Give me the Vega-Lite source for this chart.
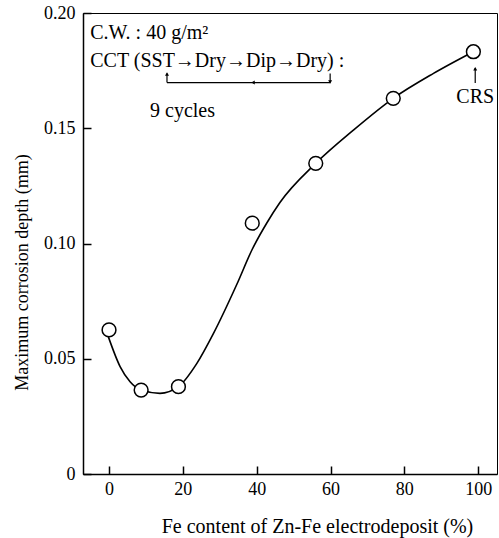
{
  "$schema": "https://vega.github.io/schema/vega-lite/v6.json",
  "width": 414,
  "height": 461,
  "autosize": {"type": "none"},
  "padding": {"left": 83, "top": 13, "right": 2, "bottom": 64},
  "background": "white",
  "config": {
    "view": {"stroke": "black", "strokeWidth": 1},
    "font": "Liberation Serif",
    "axis": {
      "grid": false,
      "domainColor": "black",
      "domainWidth": 1.5,
      "tickColor": "black",
      "tickWidth": 1.5,
      "tickSize": -8,
      "labelColor": "black",
      "labelFont": "Liberation Serif",
      "labelFontSize": 18,
      "titleFont": "Liberation Serif",
      "titleFontSize": 18,
      "titleFontWeight": "normal",
      "titleColor": "black"
    }
  },
  "datasets": {
    "points": [
      {"fe": 0, "depth": 0.0625},
      {"fe": 8.7, "depth": 0.0364},
      {"fe": 18.8, "depth": 0.0379},
      {"fe": 38.8, "depth": 0.1088},
      {"fe": 56, "depth": 0.1348},
      {"fe": 77, "depth": 0.163},
      {"fe": 98.7, "depth": 0.1832}
    ],
    "curve": [
      {"fe": -0.2, "depth": 0.0596},
      {"fe": 3.0, "depth": 0.0466},
      {"fe": 5.7, "depth": 0.040},
      {"fe": 8.7, "depth": 0.0364},
      {"fe": 13.8, "depth": 0.035},
      {"fe": 18.8, "depth": 0.0379},
      {"fe": 23.8, "depth": 0.048},
      {"fe": 28.3, "depth": 0.061},
      {"fe": 34.6, "depth": 0.0822},
      {"fe": 38.8, "depth": 0.0975},
      {"fe": 42.7, "depth": 0.1088},
      {"fe": 46.3, "depth": 0.1178},
      {"fe": 56, "depth": 0.1348},
      {"fe": 66.2, "depth": 0.1492},
      {"fe": 77, "depth": 0.163},
      {"fe": 87.9, "depth": 0.1738},
      {"fe": 98.7, "depth": 0.1832}
    ],
    "labels": [
      {"fe": -5.1, "depth": 0.1887, "text": "C.W. : 40 g/m²"},
      {"fe": -5.1, "depth": 0.1767, "text": "CCT (SST→Dry→Dip→Dry) :"},
      {"fe": 11.1, "depth": 0.1549, "text": "9 cycles"}
    ],
    "crs": [
      {"fe": 99.2, "depth": 0.1608, "text": "CRS"}
    ],
    "segments": [
      {"x1": 15.7, "y1": 0.1698, "x2": 15.7, "y2": 0.1738},
      {"x1": 15.7, "y1": 0.1698, "x2": 59.9, "y2": 0.1698},
      {"x1": 59.9, "y1": 0.1698, "x2": 59.9, "y2": 0.1738},
      {"x1": 99.2, "y1": 0.1696, "x2": 99.2, "y2": 0.1761}
    ],
    "heads": [
      {"fe": 15.7, "depth": 0.1735, "shape": "triangle-up"},
      {"fe": 59.9, "depth": 0.1701, "shape": "triangle-down"},
      {"fe": 39, "depth": 0.1698, "shape": "triangle-left"},
      {"fe": 99.2, "depth": 0.1758, "shape": "triangle-up"}
    ]
  },
  "layer": [
    {
      "data": {"name": "curve"},
      "mark": {"type": "line", "interpolate": "monotone", "color": "black", "strokeWidth": 1.6},
      "encoding": {
        "x": {
          "field": "fe", "type": "quantitative",
          "scale": {"domain": [-7.05, 105.1], "nice": false, "zero": false},
          "axis": {
            "values": [0, 20, 40, 60, 80, 100],
            "title": "Fe content of Zn-Fe  electrodeposit (%)",
            "titleFontSize": 20,
            "labelPadding": 14,
            "labelFlush": false,
            "titleX": 234,
            "titleY": 52,
            "titleBaseline": "middle",
            "titleAnchor": null
          }
        },
        "y": {
          "field": "depth", "type": "quantitative",
          "scale": {"domain": [0, 0.2], "nice": false},
          "axis": {
            "values": [0, 0.05, 0.1, 0.15, 0.2],
            "labelExpr": "datum.value == 0 ? '0' : format(datum.value, '.2f')",
            "title": "Maximum corrosion depth (mm)",
            "labelPadding": 16,
            "labelFlush": false,
            "titleX": -61,
            "titleY": 259,
            "titleBaseline": "middle",
            "titleAnchor": null
          }
        }
      }
    },
    {
      "data": {"name": "points"},
      "mark": {"type": "point", "filled": true, "fill": "white", "stroke": "black", "strokeWidth": 1.5, "size": 190, "opacity": 1},
      "encoding": {
        "x": {"field": "fe", "type": "quantitative"},
        "y": {"field": "depth", "type": "quantitative"}
      }
    },
    {
      "data": {"name": "segments"},
      "mark": {"type": "rule", "color": "black", "strokeWidth": 1.2},
      "encoding": {
        "x": {"field": "x1", "type": "quantitative"},
        "y": {"field": "y1", "type": "quantitative"},
        "x2": {"field": "x2"},
        "y2": {"field": "y2"}
      }
    },
    {
      "data": {"name": "heads"},
      "mark": {"type": "point", "filled": true, "color": "black", "size": 16, "opacity": 1},
      "encoding": {
        "x": {"field": "fe", "type": "quantitative"},
        "y": {"field": "depth", "type": "quantitative"},
        "shape": {"field": "shape", "type": "nominal", "scale": null, "legend": null}
      }
    },
    {
      "data": {"name": "labels"},
      "mark": {"type": "text", "align": "left", "baseline": "alphabetic", "fontSize": 20, "font": "Liberation Serif", "color": "black"},
      "encoding": {
        "x": {"field": "fe", "type": "quantitative"},
        "y": {"field": "depth", "type": "quantitative"},
        "text": {"field": "text"}
      }
    },
    {
      "data": {"name": "crs"},
      "mark": {"type": "text", "align": "center", "baseline": "alphabetic", "fontSize": 20, "font": "Liberation Serif", "color": "black"},
      "encoding": {
        "x": {"field": "fe", "type": "quantitative"},
        "y": {"field": "depth", "type": "quantitative"},
        "text": {"field": "text"}
      }
    }
  ]
}
